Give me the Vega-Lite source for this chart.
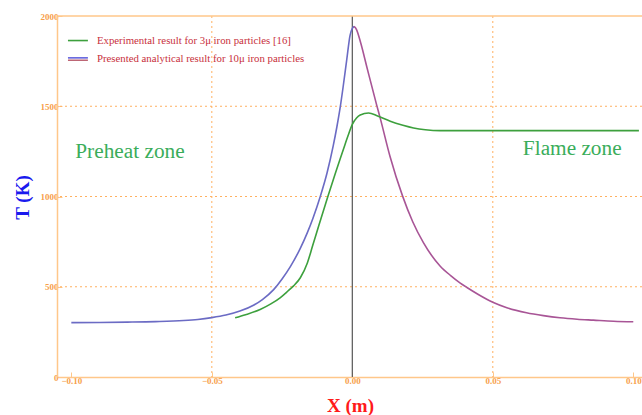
{
  "$schema": "https://vega.github.io/schema/vega-lite/v6.json",
  "width": 585,
  "height": 361,
  "autosize": {"type": "none"},
  "padding": {"left": 57, "top": 16, "right": 0, "bottom": 38},
  "background": "white",
  "config": {
    "view": {"stroke": null},
    "font": "Liberation Serif",
    "axis": {
      "labelColor": "#f7a04a",
      "labelFont": "Liberation Serif",
      "labelFontWeight": "bold",
      "labelFontSize": 9,
      "labelPadding": 4,
      "labelFlush": false,
      "labelOverlap": false,
      "tickColor": "#ffc78a",
      "tickSize": -5,
      "domainColor": "#ffc78a",
      "domainWidth": 1.5,
      "grid": false,
      "titleFont": "Liberation Serif",
      "titleFontSize": 19,
      "titleFontWeight": "bold"
    },
    "axisX": {"titleColor": "#ff1a1a", "titleX": 293, "titleY": 28, "titleBaseline": "middle", "titleAlign": "center"},
    "axisY": {"titleColor": "#1a1aee", "titleAngle": -90, "titleX": -35, "titleY": 181, "titleBaseline": "middle", "titleAlign": "center"}
  },
  "datasets": {
    "curves": [
      {"series": "left", "x": -0.1, "T": 301},
      {"series": "left", "x": -0.09, "T": 302},
      {"series": "left", "x": -0.08, "T": 304},
      {"series": "left", "x": -0.07, "T": 307},
      {"series": "left", "x": -0.06, "T": 313},
      {"series": "left", "x": -0.055, "T": 319},
      {"series": "left", "x": -0.05, "T": 329},
      {"series": "left", "x": -0.045, "T": 343},
      {"series": "left", "x": -0.04, "T": 365},
      {"series": "left", "x": -0.035, "T": 399},
      {"series": "left", "x": -0.032, "T": 429},
      {"series": "left", "x": -0.028, "T": 484},
      {"series": "left", "x": -0.025, "T": 543},
      {"series": "left", "x": -0.022, "T": 613},
      {"series": "left", "x": -0.0186, "T": 710},
      {"series": "left", "x": -0.016, "T": 800},
      {"series": "left", "x": -0.014, "T": 880},
      {"series": "left", "x": -0.0114, "T": 1000},
      {"series": "left", "x": -0.009, "T": 1130},
      {"series": "left", "x": -0.0068, "T": 1280},
      {"series": "left", "x": -0.0055, "T": 1385},
      {"series": "left", "x": -0.0043, "T": 1495},
      {"series": "left", "x": -0.0032, "T": 1615},
      {"series": "left", "x": -0.002, "T": 1755},
      {"series": "left", "x": -0.0008, "T": 1893},
      {"series": "left", "x": 0.0, "T": 1932},
      {"series": "left", "x": 0.0006, "T": 1942},
      {"series": "right", "x": 0.0006, "T": 1942},
      {"series": "right", "x": 0.0015, "T": 1925},
      {"series": "right", "x": 0.003, "T": 1850},
      {"series": "right", "x": 0.0051, "T": 1722},
      {"series": "right", "x": 0.0087, "T": 1505},
      {"series": "right", "x": 0.01, "T": 1430},
      {"series": "right", "x": 0.0134, "T": 1223},
      {"series": "right", "x": 0.0179, "T": 1002},
      {"series": "right", "x": 0.0215, "T": 860},
      {"series": "right", "x": 0.0253, "T": 744},
      {"series": "right", "x": 0.0313, "T": 614},
      {"series": "right", "x": 0.035, "T": 562},
      {"series": "right", "x": 0.0383, "T": 522},
      {"series": "right", "x": 0.0408, "T": 496},
      {"series": "right", "x": 0.045, "T": 456},
      {"series": "right", "x": 0.05, "T": 414},
      {"series": "right", "x": 0.055, "T": 384},
      {"series": "right", "x": 0.062, "T": 356},
      {"series": "right", "x": 0.068, "T": 340},
      {"series": "right", "x": 0.0739, "T": 328},
      {"series": "right", "x": 0.08, "T": 320},
      {"series": "right", "x": 0.0858, "T": 315},
      {"series": "right", "x": 0.093, "T": 309},
      {"series": "right", "x": 0.1, "T": 306},
      {"series": "exp", "x": -0.0417, "T": 328},
      {"series": "exp", "x": -0.038, "T": 345},
      {"series": "exp", "x": -0.0328, "T": 374},
      {"series": "exp", "x": -0.029, "T": 405},
      {"series": "exp", "x": -0.0257, "T": 439},
      {"series": "exp", "x": -0.023, "T": 475},
      {"series": "exp", "x": -0.0209, "T": 505},
      {"series": "exp", "x": -0.0185, "T": 550},
      {"series": "exp", "x": -0.016, "T": 632},
      {"series": "exp", "x": -0.0141, "T": 728},
      {"series": "exp", "x": -0.012, "T": 835},
      {"series": "exp", "x": -0.0087, "T": 1000},
      {"series": "exp", "x": -0.006, "T": 1130},
      {"series": "exp", "x": -0.0044, "T": 1205},
      {"series": "exp", "x": -0.0031, "T": 1265},
      {"series": "exp", "x": -0.0015, "T": 1338},
      {"series": "exp", "x": 0.0, "T": 1400},
      {"series": "exp", "x": 0.0015, "T": 1435},
      {"series": "exp", "x": 0.0028, "T": 1452},
      {"series": "exp", "x": 0.0058, "T": 1463},
      {"series": "exp", "x": 0.009, "T": 1446},
      {"series": "exp", "x": 0.0135, "T": 1417},
      {"series": "exp", "x": 0.018, "T": 1395},
      {"series": "exp", "x": 0.0218, "T": 1380},
      {"series": "exp", "x": 0.026, "T": 1370},
      {"series": "exp", "x": 0.0312, "T": 1365},
      {"series": "exp", "x": 0.05, "T": 1365},
      {"series": "exp", "x": 0.08, "T": 1365},
      {"series": "exp", "x": 0.102, "T": 1365}
    ]
  },
  "layer": [
    {
      "data": {"values": [{}]},
      "mark": {"type": "rule", "color": "#ffb060", "strokeWidth": 1, "strokeDash": [2, 3]},
      "encoding": {"x": {"datum": -0.05, "type": "quantitative"}}
    },
    {
      "data": {"values": [{}]},
      "mark": {"type": "rule", "color": "#ffb060", "strokeWidth": 1, "strokeDash": [2, 3]},
      "encoding": {"x": {"datum": 0.05, "type": "quantitative"}}
    },
    {
      "data": {"values": [{}]},
      "mark": {"type": "rule", "color": "#ffb060", "strokeWidth": 1, "strokeDash": [2, 3]},
      "encoding": {"y": {"datum": 500, "type": "quantitative"}}
    },
    {
      "data": {"values": [{}]},
      "mark": {"type": "rule", "color": "#ffb060", "strokeWidth": 1, "strokeDash": [2, 3]},
      "encoding": {"y": {"datum": 1000, "type": "quantitative"}}
    },
    {
      "data": {"values": [{}]},
      "mark": {"type": "rule", "color": "#ffb060", "strokeWidth": 1, "strokeDash": [2, 3]},
      "encoding": {"y": {"datum": 1500, "type": "quantitative"}}
    },
    {
      "data": {"values": [{}]},
      "mark": {"type": "rule", "color": "#555555", "strokeWidth": 1.2},
      "encoding": {"x": {"datum": 0, "type": "quantitative"}}
    },
    {
      "data": {"values": [{}]},
      "mark": {"type": "rule", "color": "#ffc78a", "strokeWidth": 1.5},
      "encoding": {"y": {"datum": 2000, "type": "quantitative"}}
    },
    {
      "data": {"name": "curves"},
      "mark": {"type": "line", "strokeWidth": 1.6, "interpolate": "monotone"},
      "encoding": {
        "x": {
          "field": "x",
          "type": "quantitative",
          "scale": {"domain": [-0.1051, 0.1031], "nice": false, "zero": false},
          "axis": {"values": [-0.1, -0.05, 0, 0.05, 0.1], "format": ".2f", "title": "X (m)"}
        },
        "y": {
          "field": "T",
          "type": "quantitative",
          "scale": {"domain": [0, 2000], "nice": false},
          "axis": {"values": [0, 500, 1000, 1500, 2000], "format": "d", "title": "T (K)"}
        },
        "color": {
          "field": "series",
          "type": "nominal",
          "scale": {"domain": ["exp", "left", "right"], "range": ["#3da03d", "#6b6bc4", "#a85596"]},
          "legend": null
        }
      }
    },
    {
      "data": {"values": [{}]},
      "mark": {"type": "rule", "color": "#3da03d", "strokeWidth": 1.6},
      "encoding": {
        "x": {"datum": -0.1012, "type": "quantitative"},
        "x2": {"datum": -0.0941},
        "y": {"datum": 1864, "type": "quantitative"}
      }
    },
    {
      "data": {"values": [{}]},
      "mark": {"type": "rule", "color": "#4d4dd8", "strokeWidth": 1.4},
      "encoding": {
        "x": {"datum": -0.1012, "type": "quantitative"},
        "x2": {"datum": -0.0941},
        "y": {"datum": 1768, "type": "quantitative"}
      }
    },
    {
      "data": {"values": [{}]},
      "mark": {"type": "rule", "color": "#b85a6a", "strokeWidth": 1.4},
      "encoding": {
        "x": {"datum": -0.1012, "type": "quantitative"},
        "x2": {"datum": -0.0941},
        "y": {"datum": 1755, "type": "quantitative"}
      }
    },
    {
      "data": {"values": [{}]},
      "mark": {"type": "text", "align": "left", "baseline": "middle", "font": "Liberation Serif", "fontSize": 10.8, "color": "#c8303c"},
      "encoding": {
        "x": {"datum": -0.0909, "type": "quantitative"},
        "y": {"datum": 1864, "type": "quantitative"},
        "text": {"value": "Experimental result for 3μ  iron particles [16]"}
      }
    },
    {
      "data": {"values": [{}]},
      "mark": {"type": "text", "align": "left", "baseline": "middle", "font": "Liberation Serif", "fontSize": 10.8, "color": "#c8303c"},
      "encoding": {
        "x": {"datum": -0.0909, "type": "quantitative"},
        "y": {"datum": 1761, "type": "quantitative"},
        "text": {"value": "Presented analytical result for 10μ  iron particles"}
      }
    },
    {
      "data": {"values": [{}]},
      "mark": {"type": "text", "align": "left", "baseline": "middle", "font": "Liberation Serif", "fontSize": 21.3, "color": "#3aad5a"},
      "encoding": {
        "x": {"datum": -0.0986, "type": "quantitative"},
        "y": {"datum": 1249, "type": "quantitative"},
        "text": {"value": "Preheat zone"}
      }
    },
    {
      "data": {"values": [{}]},
      "mark": {"type": "text", "align": "left", "baseline": "middle", "font": "Liberation Serif", "fontSize": 21.3, "color": "#3aad5a"},
      "encoding": {
        "x": {"datum": 0.0607, "type": "quantitative"},
        "y": {"datum": 1265, "type": "quantitative"},
        "text": {"value": "Flame zone"}
      }
    }
  ]
}
